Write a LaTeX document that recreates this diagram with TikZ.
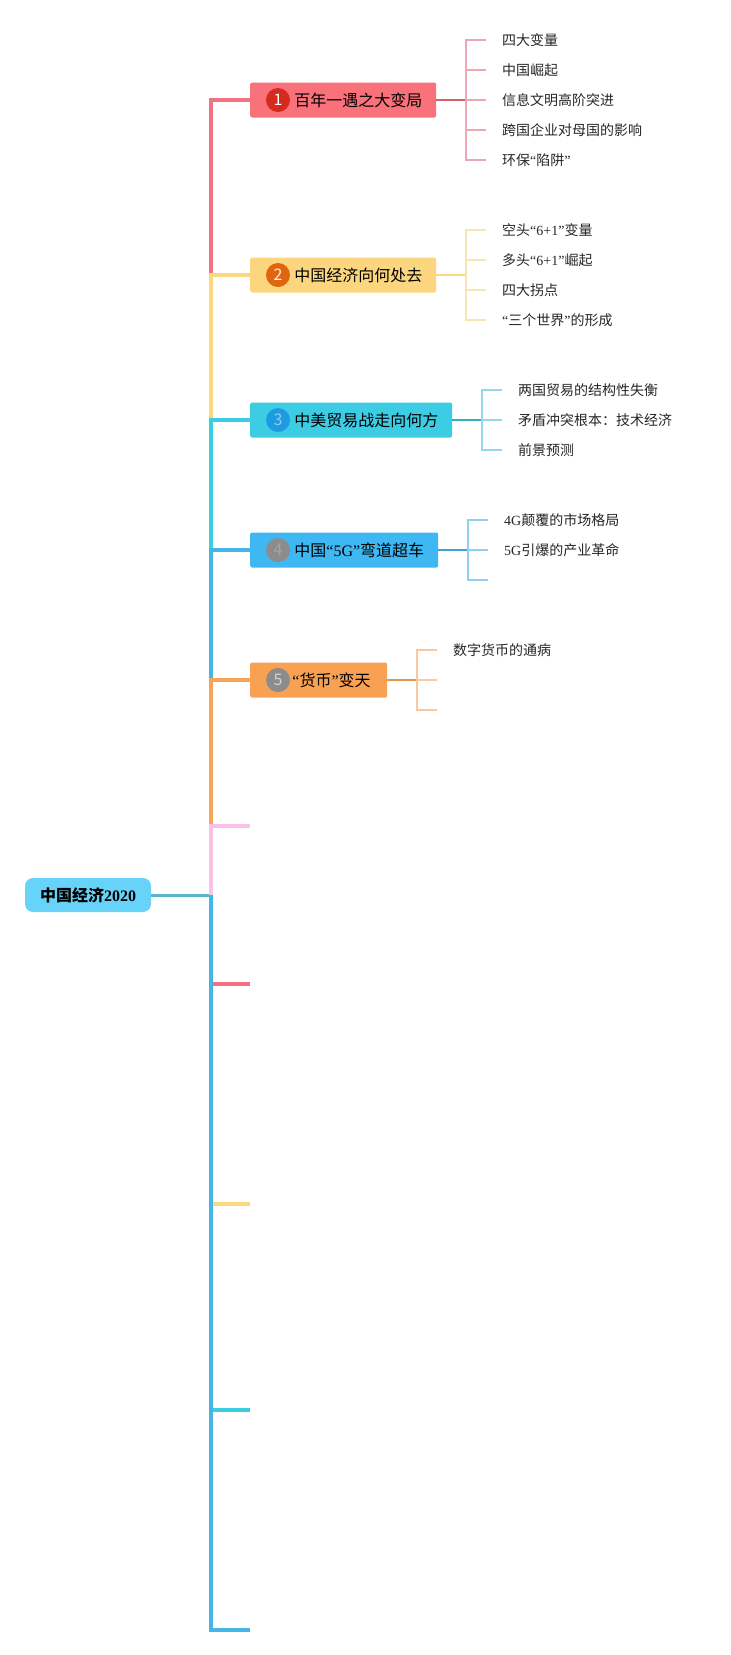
\documentclass[tikz,border=0pt]{standalone}
\usepackage{fontspec}
\setmainfont{Noto Sans CJK SC}
\newfontfamily\latin{Liberation Serif}
\usetikzlibrary{positioning}

\definecolor{rootfill}{HTML}{67D3F8}
\definecolor{rootline}{HTML}{5BB2CC}
\definecolor{boxa}{HTML}{F9717A}
\definecolor{boxb}{HTML}{FCD67F}
\definecolor{boxc}{HTML}{3CCDE5}
\definecolor{boxd}{HTML}{3DB8F3}
\definecolor{boxe}{HTML}{F9A152}
\definecolor{linea}{HTML}{F27380}
\definecolor{lineb}{HTML}{FCD77F}
\definecolor{linec}{HTML}{3DCDE3}
\definecolor{lined}{HTML}{45B5E6}
\definecolor{linee}{HTML}{F8A458}
\definecolor{linef}{HTML}{FBC2E7}
\definecolor{twiga}{HTML}{EFA5B5}
\definecolor{twigb}{HTML}{F9E4B3}
\definecolor{twigc}{HTML}{94D9EA}
\definecolor{twigd}{HTML}{91D0EF}
\definecolor{twige}{HTML}{F7C9A3}
\definecolor{numa}{HTML}{D52A1E}
\definecolor{numb}{HTML}{E0650F}
\definecolor{numc}{HTML}{1C9BE1}
\definecolor{numgrey}{HTML}{8C8C8C}

\begin{document}
\begin{tikzpicture}[x=1pt, y=-1pt,
    box/.style={anchor=west, minimum height=35pt, inner sep=0pt, rounded corners=2pt},
    num/.style={circle, minimum size=24pt, inner sep=0pt, font=\fontsize{16pt}{18pt}\selectfont},
    title/.style={anchor=west, inner sep=0pt, font=\fontsize{16pt}{18pt}\selectfont},
    leaf/.style={anchor=west, inner sep=0pt, inner xsep=16pt, minimum height=20pt, font=\fontsize{14pt}{16pt}\selectfont, text=black!85},
    trunk/.style={line width=4pt},
    stem/.style={line width=2pt},
    twig/.style={line width=1.5pt}]
    \useasboundingbox (0,0) rectangle (731,1655);

    % Root
    \node[fill=rootfill, rounded corners=8pt, minimum width=126pt, minimum height=34pt,
          font=\fontsize{16pt}{18pt}\selectfont\bfseries] (root) at (88,895) {中国经济{\latin 2020}};
    \coordinate (J) at (211,895);

    % Main topics
    \node[box, fill=boxa, minimum width=186pt] (b1) at (250,100) {};
    \node[box, fill=boxb, minimum width=186pt] (b2) at (250,275) {};
    \node[box, fill=boxc, minimum width=202pt] (b3) at (250,420) {};
    \node[box, fill=boxd, minimum width=188pt] (b4) at (250,550) {};
    \node[box, fill=boxe, minimum width=137pt] (b5) at (250,680) {};

    % Empty topics
    \coordinate (e6) at (250,826);
    \coordinate (e7) at (250,984);
    \coordinate (e8) at (250,1204);
    \coordinate (e9) at (250,1410);
    \coordinate (e10) at (250,1630);

    % Trunk, drawn in order so later branches lie on top
    \draw[line width=3pt, rootline] (root.east) -- (J);
    \foreach \n/\c in {b1/linea, b2/lineb, b3/linec, b4/lined, b5/linee}
        \draw[trunk, \c] (J) |- (\n.west);
    \foreach \n/\c in {e6/linef, e7/linea, e8/lineb, e9/linec, e10/lined}
        \draw[trunk, \c] (J) |- (\n);

    % Numbers and titles
    \node[num, fill=numa, text=white] (n1) at (278,100) {1};
    \node[title, right=4pt of n1] (t1) {百年一遇之大变局};
    \node[num, fill=numb, text=white!90!numb] (n2) at (278,275) {2};
    \node[title, right=4pt of n2] (t2) {中国经济向何处去};
    \node[num, fill=numc, text=numc!50!white] (n3) at (278,420) {3};
    \node[title, right=4pt of n3] (t3) {中美贸易战走向何方};
    \node[num, fill=numgrey, text=numgrey!80!white] (n4) at (278,550) {4};
    \node[title, right=4pt of n4] (t4) {中国{\latin “5G”}弯道超车};
    \node[num, fill=numgrey, text=numgrey!40!white] (n5) at (278,680) {5};
    \node[title, right=2pt of n5] (t5) {{\latin “}货币{\latin ”}变天};

    % Subtopics of 1
    \coordinate (k1) at (466,100);
    \draw[stem, linea!85!black] (b1.east) -- (k1);
    \foreach \t [count=\i] in {四大变量, 中国崛起, 信息文明高阶突进, 跨国企业对母国的影响, 环保{\latin “}陷阱{\latin ”}} {
        \node[leaf] (c1\i) at (486,10+30*\i) {\t};
        \draw[twig, twiga] (k1) |- (c1\i.west);
    }

    % Subtopics of 2
    \coordinate (k2) at (466,275);
    \draw[stem, lineb] (b2.east) -- (k2);
    \foreach \t [count=\i] in {空头{\latin “6+1”}变量, 多头{\latin “6+1”}崛起, 四大拐点, {\latin “}三个世界{\latin ”}的形成} {
        \node[leaf] (c2\i) at (486,200+30*\i) {\t};
        \draw[twig, twigb] (k2) |- (c2\i.west);
    }

    % Subtopics of 3
    \coordinate (k3) at (482,420);
    \draw[stem, linec!85!black] (b3.east) -- (k3);
    \foreach \t [count=\i] in {两国贸易的结构性失衡, 矛盾冲突根本：技术经济, 前景预测} {
        \node[leaf] (c3\i) at (502,360+30*\i) {\t};
        \draw[twig, twigc] (k3) |- (c3\i.west);
    }

    % Subtopics of 4
    \coordinate (k4) at (468,550);
    \draw[stem, lined!90!black] (b4.east) -- (k4);
    \foreach \t [count=\i] in {{\latin 4G}颠覆的市场格局, {\latin 5G}引爆的产业革命, {}} {
        \node[leaf] (c4\i) at (488,490+30*\i) {\t};
        \draw[twig, twigd] (k4) |- (c4\i.west);
    }

    % Subtopics of 5
    \coordinate (k5) at (417,680);
    \draw[stem, linee!90!black] (b5.east) -- (k5);
    \foreach \t [count=\i] in {数字货币的通病, {}, {}} {
        \node[leaf] (c5\i) at (437,620+30*\i) {\t};
        \draw[twig, twige] (k5) |- (c5\i.west);
    }
\end{tikzpicture}
\end{document}
